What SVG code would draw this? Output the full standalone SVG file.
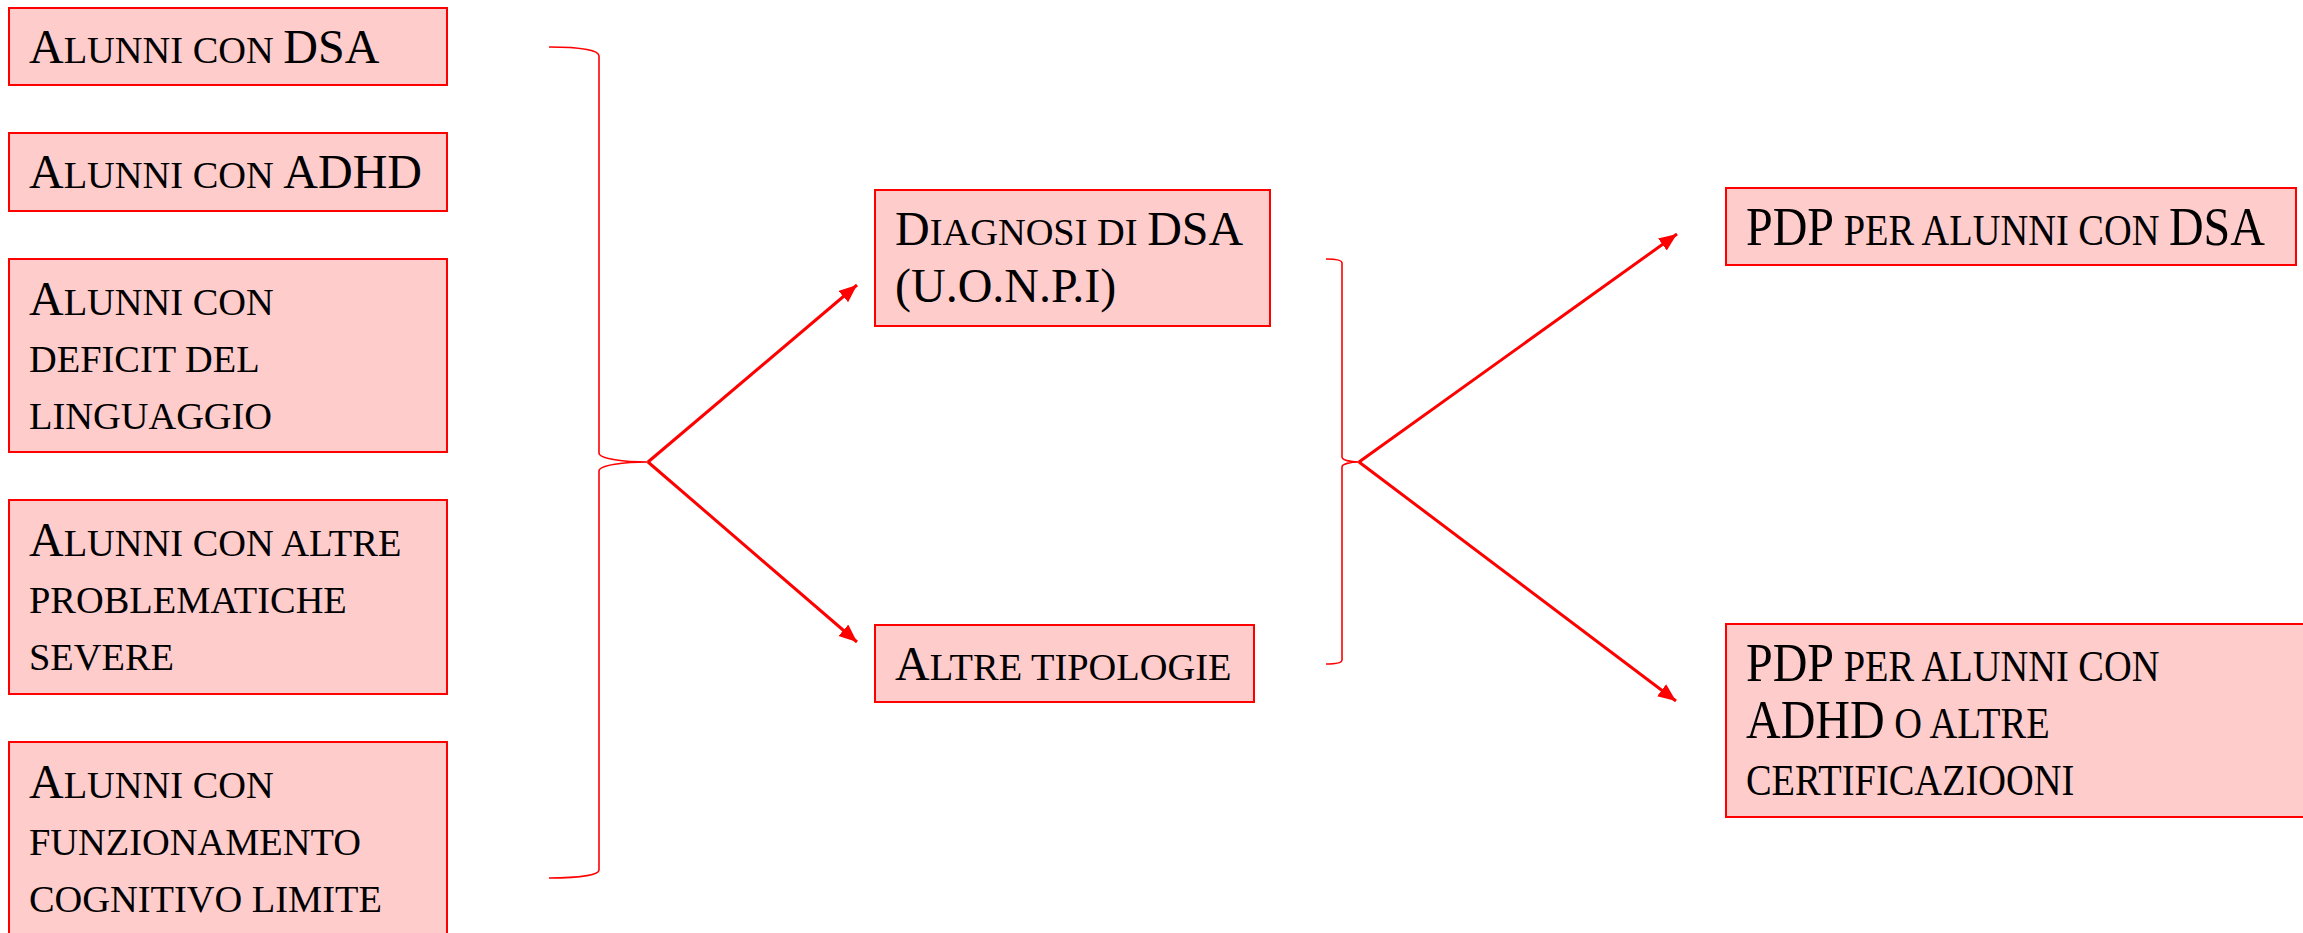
<svg xmlns="http://www.w3.org/2000/svg" width="2303" height="933" viewBox="0 0 2303 933">
  <style>
    .box { fill: #ffcccc; stroke: #ff0000; stroke-width: 2; }
    .t { font-family: "Liberation Serif", "Times New Roman", serif; font-size: 48px; fill: #000000; }
    .sc { font-size: 38.4px; }
    .brace { fill: none; stroke: #ff0000; stroke-width: 1.6; }
    .arrow { fill: none; stroke: #ff0000; stroke-width: 3; marker-end: url(#head); }
  </style>
  <defs>
    <marker id="head" markerUnits="userSpaceOnUse" markerWidth="20" markerHeight="16" refX="18" refY="7.5" orient="auto">
      <path d="M0,0 L18,7.5 L0,15 z" fill="#ff0000"/>
    </marker>
  </defs>
  <rect width="2303" height="933" fill="#ffffff"/>

  <!-- left column: student groups -->
  <g id="alunni-dsa">
    <rect class="box" x="9" y="8" width="438" height="77"/>
    <text class="t" x="29" y="63">A<tspan class="sc">LUNNI CON </tspan>DSA</text>
  </g>
  <g id="alunni-adhd">
    <rect class="box" x="9" y="133" width="438" height="78"/>
    <text class="t" x="29" y="188">A<tspan class="sc">LUNNI CON </tspan>ADHD</text>
  </g>
  <g id="alunni-linguaggio">
    <rect class="box" x="9" y="259" width="438" height="193"/>
    <text class="t" x="29" y="315">A<tspan class="sc">LUNNI CON</tspan></text>
    <text class="t sc" x="29" y="372">DEFICIT DEL</text>
    <text class="t sc" x="29" y="429">LINGUAGGIO</text>
  </g>
  <g id="alunni-altre">
    <rect class="box" x="9" y="500" width="438" height="194"/>
    <text class="t" x="29" y="556">A<tspan class="sc">LUNNI CON ALTRE</tspan></text>
    <text class="t sc" x="29" y="613">PROBLEMATICHE</text>
    <text class="t sc" x="29" y="670">SEVERE</text>
  </g>
  <g id="alunni-cognitivo">
    <rect class="box" x="9" y="742" width="438" height="200"/>
    <text class="t" x="29" y="798">A<tspan class="sc">LUNNI CON</tspan></text>
    <text class="t sc" x="29" y="855">FUNZIONAMENTO</text>
    <text class="t sc" x="29" y="912">COGNITIVO LIMITE</text>
  </g>

  <!-- middle column -->
  <g id="diagnosi-dsa">
    <rect class="box" x="875" y="190" width="395" height="136"/>
    <text class="t" x="895" y="245">D<tspan class="sc">IAGNOSI DI </tspan>DSA</text>
    <text class="t" x="895" y="302">(U.O.N.P.I)</text>
  </g>
  <g id="altre-tipologie">
    <rect class="box" x="875" y="625" width="379" height="77"/>
    <text class="t" x="895" y="680">A<tspan class="sc">LTRE TIPOLOGIE</tspan></text>
  </g>

  <!-- right column -->
  <g id="pdp-dsa">
    <rect class="box" x="1726" y="188" width="570" height="77"/>
    <text class="t" transform="translate(1746,245) scale(1,1.13)">PDP<tspan class="sc"> PER ALUNNI CON </tspan>DSA</text>
  </g>
  <g id="pdp-adhd">
    <rect class="box" x="1726" y="624" width="590" height="193"/>
    <text class="t" transform="translate(1746,681) scale(1,1.13)">PDP<tspan class="sc"> PER ALUNNI CON</tspan></text>
    <text class="t" transform="translate(1746,738) scale(1,1.13)">ADHD<tspan class="sc"> O ALTRE</tspan></text>
    <text class="t sc" transform="translate(1746,795) scale(1,1.13)">CERTIFICAZIOONI</text>
  </g>

  <!-- braces and arrows -->
  <g id="connectors">
    <path class="brace" d="M549,47 C580,47 599,50 599,56 V453 C599,459 625,462 648,462 C625,462 599,465 599,471 V870 C599,875 580,878 549,878"/>
    <path class="brace" d="M1326,259 C1336,259 1342,260 1342,263 V457 C1342,460 1350,462 1359,462 C1350,462 1342,464 1342,467 V660 C1342,663 1336,664 1326,664"/>
    <line class="arrow" x1="648" y1="462" x2="857" y2="285"/>
    <line class="arrow" x1="648" y1="462" x2="857" y2="642"/>
    <line class="arrow" x1="1359" y1="462" x2="1677" y2="234"/>
    <line class="arrow" x1="1359" y1="462" x2="1676" y2="701"/>
  </g>
</svg>
